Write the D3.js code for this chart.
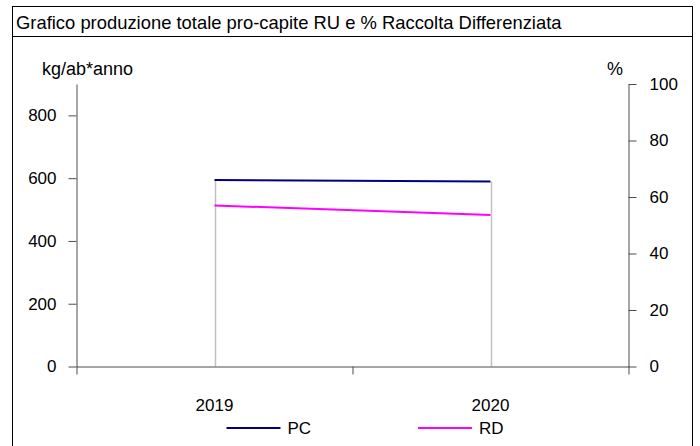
<!DOCTYPE html>
<html>
<head>
<meta charset="utf-8">
<script src="https://cdn.jsdelivr.net/npm/d3@7/dist/d3.min.js"></script>
<style>
  html, body { margin: 0; padding: 0; background: #fff; }
  svg { display: block; font-family: "Liberation Sans", Arial, sans-serif; }
</style>
</head>
<body>
<svg id="chart" width="700" height="446"></svg>
<script>
const titleText = "Grafico produzione totale pro-capite RU e % Raccolta Differenziata";
const categories = ["2019", "2020"];
const pcValues = [594, 589];
const rdValues = [57.0, 53.6];
const leftTicks = [0, 200, 400, 600, 800];
const rightTicks = [0, 20, 40, 60, 80, 100];
const seriesNames = ["PC", "RD"];
const seriesColors = ["#000080", "#ff00ff"];

const svg = d3.select("#chart");

// frame
svg.append("rect").attr("x", 12.5).attr("y", 6.5).attr("width", 680).attr("height", 460)
  .attr("fill", "none").attr("stroke", "#000").attr("stroke-width", 1);
svg.append("line").attr("x1", 12.5).attr("x2", 692.5).attr("y1", 36.5).attr("y2", 36.5)
  .attr("stroke", "#000");
svg.append("text").attr("x", 16).attr("y", 29).attr("font-size", 18.4).attr("fill", "#000")
  .text(titleText);

const plotL = 76.5, plotR = 628.5, plotB = 366.5, plotT = 84;

const x = d3.scaleBand().domain(categories).range([plotL, plotR]);
const xb = d3.scaleLinear().domain([0, categories.length]).range([plotL, plotR]);
const yL = d3.scaleLinear().domain([0, 900]).range([plotB, plotT]);
const yR = d3.scaleLinear().domain([0, 100]).range([plotB, plotT]);
const cx = c => x(c) + x.bandwidth() / 2;

// drop lines
svg.append("g").selectAll("line").data(categories).join("line")
  .attr("x1", d => Math.round(cx(d)) + 0.5).attr("x2", d => Math.round(cx(d)) + 0.5)
  .attr("y1", (d, i) => yL(pcValues[i])).attr("y2", plotB)
  .attr("stroke", "#c0c0c0").attr("stroke-width", 1.5);

const axisColor = "#4d4d4d";

// x axis (category boundary ticks)
const gx = svg.append("g").attr("transform", `translate(0,${plotB})`)
  .call(d3.axisBottom(xb).tickValues(d3.range(0, categories.length + 1)).tickFormat("").tickSize(8).tickSizeOuter(0));
gx.select(".domain").attr("stroke", axisColor);
gx.selectAll(".tick line").attr("stroke", axisColor);

// left axis
const gl = svg.append("g").attr("transform", `translate(${plotL},0)`)
  .call(d3.axisLeft(yL).tickValues(leftTicks).tickSize(8).tickSizeOuter(0).tickPadding(12));
gl.select(".domain").attr("stroke", axisColor);
gl.selectAll(".tick line").attr("stroke", axisColor);
gl.selectAll(".tick text").attr("font-size", 17).attr("fill", "#000").attr("font-family", "Liberation Sans, Arial, sans-serif");

// right axis
const gr = svg.append("g").attr("transform", `translate(${plotR},0)`)
  .call(d3.axisRight(yR).tickValues(rightTicks).tickSize(8).tickSizeOuter(0).tickPadding(13));
gr.select(".domain").attr("stroke", axisColor);
gr.selectAll(".tick line").attr("stroke", axisColor);
gr.selectAll(".tick text").attr("font-size", 17).attr("fill", "#000").attr("font-family", "Liberation Sans, Arial, sans-serif");

// axis titles
svg.append("text").attr("x", 42).attr("y", 75).attr("font-size", 18).text("kg/ab*anno");
svg.append("text").attr("x", 607).attr("y", 75).attr("font-size", 18).text("%");

// category labels
svg.append("g").selectAll("text").data(categories).join("text")
  .attr("x", d => cx(d)).attr("y", 411).attr("text-anchor", "middle").attr("font-size", 17)
  .text(d => d);

// lines
const lineL = d3.line().x((d, i) => cx(categories[i])).y(d => yL(d));
const lineR = d3.line().x((d, i) => cx(categories[i])).y(d => yR(d));
svg.append("path").datum(pcValues).attr("d", lineL).attr("fill", "none")
  .attr("stroke", seriesColors[0]).attr("stroke-width", 2);
svg.append("path").datum(rdValues).attr("d", lineR).attr("fill", "none")
  .attr("stroke", seriesColors[1]).attr("stroke-width", 2);

// legend
const legX = [226.5, 418];
const leg = svg.append("g").selectAll("g").data(seriesNames).join("g")
  .attr("transform", (d, i) => `translate(${legX[i]},428)`);
leg.append("line").attr("x1", 0).attr("x2", 54).attr("y1", 0).attr("y2", 0)
  .attr("stroke", (d, i) => seriesColors[i]).attr("stroke-width", 2);
leg.append("text").attr("x", 61).attr("y", 6).attr("font-size", 17).text(d => d);
</script>
</body>
</html>
